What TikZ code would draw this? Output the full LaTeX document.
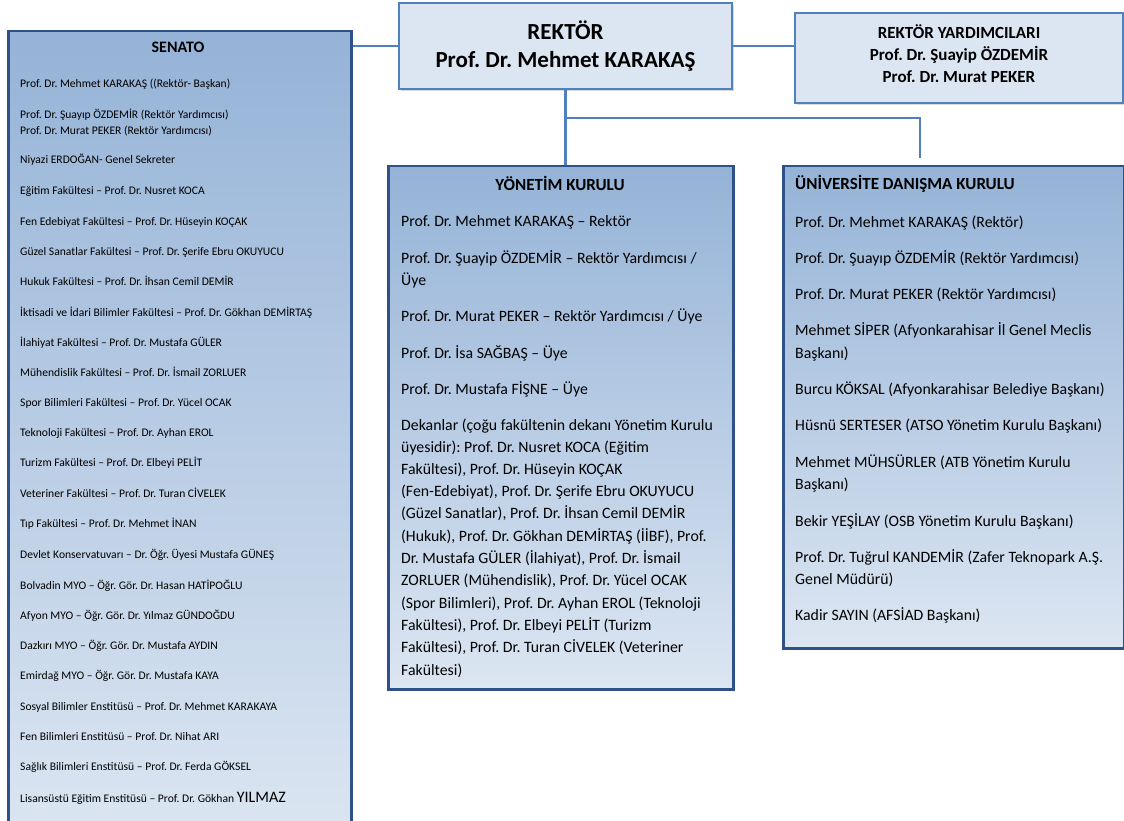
\documentclass[tikz,border=0pt]{standalone}
\usepackage{fontspec}
\setmainfont{Carlito}
\usetikzlibrary{shadows}
\definecolor{rekFill}{HTML}{DCE6F2}
\definecolor{rekLine}{HTML}{4F81BD}
\definecolor{boardTop}{HTML}{95B3D7}
\definecolor{boardBot}{HTML}{DCE6F2}
\definecolor{boardLine}{HTML}{2E5287}
\tikzset{
  head/.style={draw=rekLine, line width=1.5pt, fill=rekFill,
    drop shadow={opacity=0.3, shadow xshift=2pt, shadow yshift=-2pt}},
  board/.style={draw=boardLine, line width=2.5pt, top color=boardTop, bottom color=boardBot,
    anchor=north west, drop shadow={opacity=0.3, shadow xshift=2pt, shadow yshift=-2pt}},
  link/.style={rekLine, line width=2.2pt},
  senitem/.style={anchor=base west, inner sep=0pt, font=\fontsize{11.6}{13}\selectfont},
  item/.style={anchor=base west, inner sep=0pt, font=\fontsize{15.8}{18}\selectfont},
  boardhead/.style={inner sep=0pt, font=\bfseries\fontsize{17}{20}\selectfont},
}
\frenchspacing
\begin{document}
\begin{tikzpicture}[x=1pt, y=-1pt]
\useasboundingbox (0,0) rectangle (1124,821);
% boxes
\node [board, minimum width=343, minimum height=810] (senato) at (7,30) {};
\node [board, minimum width=345, minimum height=523] (yonetim) at (387,165) {};
\node [board, minimum width=341, minimum height=482] (danisma) at (782,165) {};
\node [head, minimum width=333, minimum height=86, align=center,
  font=\bfseries\fontsize{23}{28}\selectfont] (rektor) at (565.5,46) {REKTÖR\\Prof. Dr. Mehmet KARAKAŞ};
\node [head, minimum width=328, minimum height=90] (yard) at (959,58) {};
\node [align=center, font=\bfseries\fontsize{17}{22}\selectfont] (yardtext) at (959,54)
  {REKTÖR YARDIMCILARI\\Prof. Dr. Şuayip ÖZDEMİR\\Prof. Dr. Murat PEKER};
% connectors
\coordinate (fork) at (566,118);
\coordinate (danend) at (920,158);
\draw [link] (rektor.west) -- (rektor.west -| senato.east);
\draw [link] (rektor.east) -- (rektor.east -| yard.west);
\draw [link] (rektor.south) -- (rektor.south |- yonetim.north);
\draw [link] (fork) -| (danend);
% senato
\node [boardhead, font=\bfseries\fontsize{16}{18}\selectfont] (senhead) at (178,47) {SENATO};
\foreach \y/\t [count=\i] in {
  84/{Prof. Dr. Mehmet KARAKAŞ ((Rektör- Başkan)},
  115/{Prof. Dr. Şuayıp ÖZDEMİR (Rektör Yardımcısı)},
  131/{Prof. Dr. Murat PEKER (Rektör Yardımcısı)},
  160/{Niyazi ERDOĞAN- Genel Sekreter},
  191/{Eğitim Fakültesi – Prof. Dr. Nusret KOCA},
  222/{Fen Edebiyat Fakültesi – Prof. Dr. Hüseyin KOÇAK},
  252/{Güzel Sanatlar Fakültesi – Prof. Dr. Şerife Ebru OKUYUCU},
  282/{Hukuk Fakültesi – Prof. Dr. İhsan Cemil DEMİR},
  313/{İktisadi ve İdari Bilimler Fakültesi – Prof. Dr. Gökhan DEMİRTAŞ},
  343/{İlahiyat Fakültesi – Prof. Dr. Mustafa GÜLER},
  373/{Mühendislik Fakültesi – Prof. Dr. İsmail ZORLUER},
  403/{Spor Bilimleri Fakültesi – Prof. Dr. Yücel OCAK},
  433/{Teknoloji Fakültesi – Prof. Dr. Ayhan EROL},
  463/{Turizm Fakültesi – Prof. Dr. Elbeyi PELİT},
  494/{Veteriner Fakültesi – Prof. Dr. Turan CİVELEK},
  524/{Tıp Fakültesi – Prof. Dr. Mehmet İNAN},
  555/{Devlet Konservatuvarı – Dr. Öğr. Üyesi Mustafa GÜNEŞ},
  586/{Bolvadin MYO – Öğr. Gör. Dr. Hasan HATİPOĞLU},
  616/{Afyon MYO – Öğr. Gör. Dr. Yılmaz GÜNDOĞDU},
  646/{Dazkırı MYO – Öğr. Gör. Dr. Mustafa AYDIN},
  676/{Emirdağ MYO – Öğr. Gör. Dr. Mustafa KAYA},
  707/{Sosyal Bilimler Enstitüsü – Prof. Dr. Mehmet KARAKAYA},
  737/{Fen Bilimleri Enstitüsü – Prof. Dr. Nihat ARI},
  767/{Sağlık Bilimleri Enstitüsü – Prof. Dr. Ferda GÖKSEL},
  799/{Lisansüstü Eğitim Enstitüsü – Prof. Dr. Gökhan {\fontsize{16}{16}\selectfont YILMAZ}}}
  \node [senitem] (sen\i) at (20,\y+3.8) {\t};
% yonetim kurulu
\node [boardhead] (yonhead) at (560,183) {YÖNETİM KURULU};
\foreach \y/\t [count=\i] in {
  221/{Prof. Dr. Mehmet KARAKAŞ – Rektör},
  258/{Prof. Dr. Şuayip ÖZDEMİR – Rektör Yardımcısı /},
  280/{Üye},
  316/{Prof. Dr. Murat PEKER – Rektör Yardımcısı / Üye},
  353/{Prof. Dr. İsa SAĞBAŞ – Üye},
  389/{Prof. Dr. Mustafa FİŞNE – Üye},
  425/{Dekanlar (çoğu fakültenin dekanı Yönetim Kurulu},
  447/{üyesidir): Prof. Dr. Nusret KOCA (Eğitim},
  469/{Fakültesi), Prof. Dr. Hüseyin KOÇAK},
  491/{(Fen-Edebiyat), Prof. Dr. Şerife Ebru OKUYUCU},
  513/{(Güzel Sanatlar), Prof. Dr. İhsan Cemil DEMİR},
  536/{(Hukuk), Prof. Dr. Gökhan DEMİRTAŞ (İİBF), Prof.},
  558/{Dr. Mustafa GÜLER (İlahiyat), Prof. Dr. İsmail},
  580/{ZORLUER (Mühendislik), Prof. Dr. Yücel OCAK},
  603/{(Spor Bilimleri), Prof. Dr. Ayhan EROL (Teknoloji},
  625/{Fakültesi), Prof. Dr. Elbeyi PELİT (Turizm},
  647/{Fakültesi), Prof. Dr. Turan CİVELEK (Veteriner},
  670/{Fakültesi)}}
  \node [item] (yon\i) at (401,\y+5.2) {\t};
% danisma kurulu
\node [boardhead, anchor=base west] (danhead) at (795,189.6) {ÜNİVERSİTE DANIŞMA KURULU};
\foreach \y/\t [count=\i] in {
  222/{Prof. Dr. Mehmet KARAKAŞ (Rektör)},
  258/{Prof. Dr. Şuayıp ÖZDEMİR (Rektör Yardımcısı)},
  294/{Prof. Dr. Murat PEKER (Rektör Yardımcısı)},
  330/{Mehmet SİPER (Afyonkarahisar İl Genel Meclis},
  353/{Başkanı)},
  389/{Burcu KÖKSAL (Afyonkarahisar Belediye Başkanı)},
  425/{Hüsnü SERTESER (ATSO Yönetim Kurulu Başkanı)},
  462/{Mehmet MÜHSÜRLER (ATB Yönetim Kurulu},
  484/{Başkanı)},
  521/{Bekir YEŞİLAY (OSB Yönetim Kurulu Başkanı)},
  557/{Prof. Dr. Tuğrul KANDEMİR (Zafer Teknopark A.Ş.},
  579/{Genel Müdürü)},
  615/{Kadir SAYIN (AFSİAD Başkanı)}}
  \node [item] (dan\i) at (795,\y+5.2) {\t};
\end{tikzpicture}
\end{document}
